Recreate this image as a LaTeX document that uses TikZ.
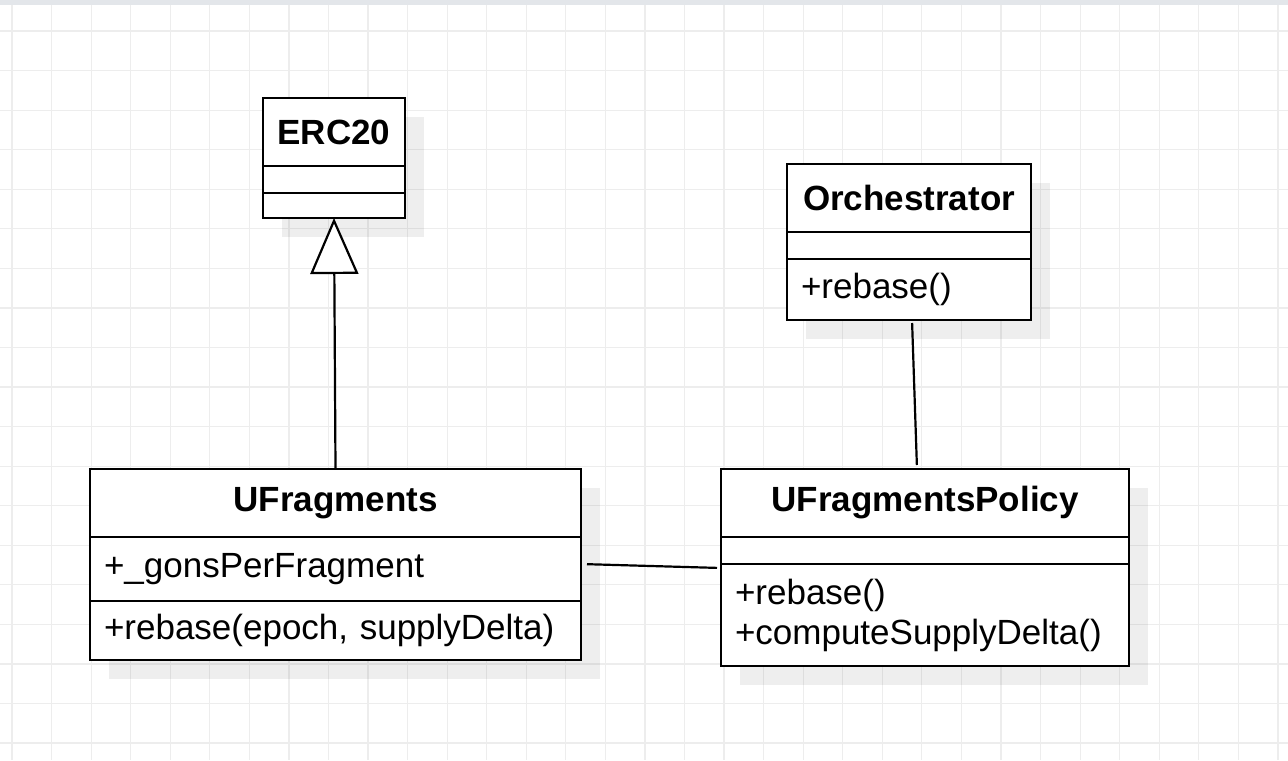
\documentclass[tikz,border=0pt]{standalone}
\usepackage{fontspec}
\setmainfont{Liberation Sans}
\usepackage{tikz}
\usetikzlibrary{positioning,arrows.meta,backgrounds}
\definecolor{gridgray}{HTML}{EDEDED}
\definecolor{topbar}{HTML}{E3E6EA}

\begin{document}
\begin{tikzpicture}[
      x=0.5pt, y=-0.5pt,
      node distance=0pt,
      clspart/.style={rectangle, draw=black, line width=1.2pt, fill=white, outer sep=0pt,
                      inner xsep=7pt, inner ysep=0pt, font=\fontsize{17.5}{20}\selectfont},
      clshead/.style={clspart, align=center, minimum height=34pt, anchor=north,
                      font=\fontsize{17.5}{20}\selectfont\bfseries},
      clsbody/.style={clspart, align=left},
      clsempty/.style={clspart, minimum height=13.5pt},
      clsshadow/.style={fill=black, fill opacity=0.065},
      gridline/.style={gridgray, line width=0.6pt},
      link/.style={line width=1.1pt, black},
    ]
    \useasboundingbox (0,0) rectangle (1288,760);

    \node[clshead, minimum width=71pt] (erc) at (334,98) {ERC20};
    \node[clsempty, text width=57pt, below=of erc] (erca) {};
    \node[clsempty, text width=57pt, minimum height=12.5pt, below=of erca] (ercm) {};

    \node[clshead, minimum width=122pt] (orch) at (909,164) {Orchestrator};
    \node[clsempty, text width=108pt, below=of orch] (orcha) {};
    \node[clsbody, text width=108pt, minimum height=30.5pt, below=of orcha] (orchm) {+rebase()};

    \node[clshead, minimum width=245.5pt] (uf) at (335.5,469) {UFragments};
    \node[clsbody, text width=231.5pt, minimum height=32pt, below=of uf] (ufa) {+\_gonsPerFragment};
    \node[clsbody, text width=231.5pt, minimum height=29.5pt, below=of ufa] (ufm) {+rebase(epoch, supplyDelta)};

    \node[clshead, minimum width=204pt] (pol) at (925,469) {UFragmentsPolicy};
    \node[clsempty, text width=190pt, below=of pol] (pola) {};
    \node[clsbody, text width=190pt, minimum height=51pt, below=of pola] (polm) {+rebase()\\+computeSupplyDelta()};

    \draw[link, -{Triangle[fill=white, length=28pt, width=24pt]}] (uf.north) -- (ercm.south);
    \draw[link, shorten <=1.5pt, shorten >=2pt] ([xshift=1.5pt]orchm.south) -- ([xshift=-4pt]pol.north);
    \draw[link, shorten <=3pt, shorten >=2pt] ([yshift=2.5pt]ufa.east) -- ([yshift=-2pt]polm.north west);

    \begin{scope}[on background layer]
      \foreach \i in {0,...,32}
        \draw[gridline] ({12+39.56*\i},0) -- ({12+39.56*\i},760);
      \foreach \j in {0,...,18}
        \draw[gridline] (0,{31+39.56*\j}) -- (1288,{31+39.56*\j});
      \fill[topbar] (0,0) rectangle (1288,5);
      \foreach \top/\bot in {erc/ercm, orch/orchm, uf/ufm, pol/polm}
        \fill[clsshadow] ([shift={(9.5pt,-9.5pt)}]\top.north west) rectangle ([shift={(9.5pt,-9.5pt)}]\bot.south east);
    \end{scope}
  \end{tikzpicture}
\end{document}
